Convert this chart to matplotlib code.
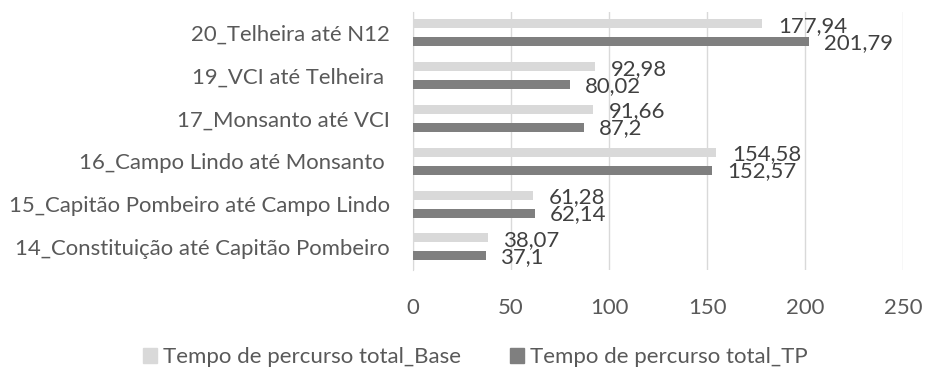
import matplotlib
matplotlib.use("Agg")
import matplotlib.pyplot as plt
import numpy as np

categories = [
    "14_Constituição até Capitão Pombeiro",
    "15_Capitão Pombeiro até Campo Lindo",
    "16_Campo Lindo até Monsanto ",
    "17_Monsanto até VCI",
    "19_VCI até Telheira ",
    "20_Telheira até N12",
]
base_values = [38.07, 61.28, 154.58, 91.66, 92.98, 177.94]
tp_values = [37.1, 62.14, 152.57, 87.2, 80.02, 201.79]
base_labels = ["38,07", "61,28", "154,58", "91,66", "92,98", "177,94"]
tp_labels = ["37,1", "62,14", "152,57", "87,2", "80,02", "201,79"]
series_names = ["Tempo de percurso total_Base", "Tempo de percurso total_TP"]
xticks = [0, 50, 100, 150, 200, 250]

plt.rcParams["font.family"] = ["Lato", "DejaVu Sans"]
fs = 15.9

fig = plt.figure(figsize=(9.25, 3.71), dpi=100)
ax = fig.add_axes([413 / 925, 1 - 270 / 371, 490 / 925, 258 / 371])

y = np.arange(len(categories))
h = 0.21
off = 0.21
base_color = "#D9D9D9"
tp_color = "#7F7F7F"
text_color = "#595959"
label_color = "#404040"

ax.barh(y + off, base_values, height=h, color=base_color, zorder=3)
ax.barh(y - off, tp_values, height=h, color=tp_color, zorder=3)

for yi, v, s in zip(y, base_values, base_labels):
    ax.annotate(s, (v, yi + off), xytext=(16, -2), textcoords="offset pixels",
                ha="left", va="center", fontsize=fs, color=label_color)
for yi, v, s in zip(y, tp_values, tp_labels):
    ax.annotate(s, (v, yi - off), xytext=(15, -1), textcoords="offset pixels",
                ha="left", va="center", fontsize=fs, color=label_color)

ax.set_xlim(0, 250)
ax.set_ylim(-0.54, 5.49)
ax.set_xticks(xticks)
ax.set_xticklabels([str(t) for t in xticks])
ax.set_yticks(y)
ax.set_yticklabels(categories)
ax.tick_params(axis="both", length=0, labelsize=fs, labelcolor=text_color)
ax.tick_params(axis="x", pad=20)
ax.tick_params(axis="y", pad=16.5)
ax.grid(axis="x", color="#D9D9D9", linewidth=1, zorder=0)
for sp in ["top", "right", "bottom"]:
    ax.spines[sp].set_visible(False)
ax.spines["left"].set_color("#D9D9D9")

handles = [plt.Rectangle((0, 0), 1, 1, color=base_color),
           plt.Rectangle((0, 0), 1, 1, color=tp_color)]
fig.legend(handles, series_names, loc="center", bbox_to_anchor=(475 / 925, 1 - 357 / 371),
           ncol=2, frameon=False, fontsize=16, labelcolor=text_color,
           handlelength=0.65, handleheight=0.65, handletextpad=0.25, columnspacing=2.2,
           borderpad=0)

fig.savefig("out.png", dpi=100)
